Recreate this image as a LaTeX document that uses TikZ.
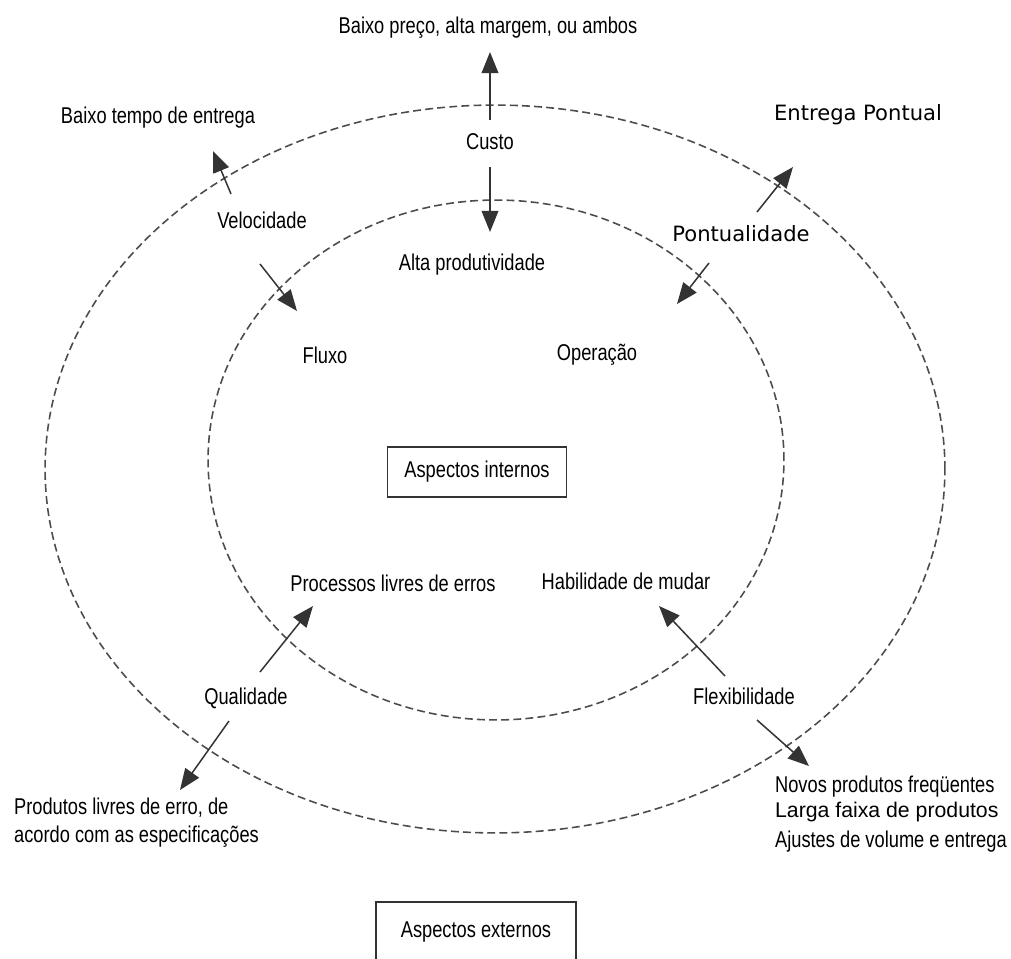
\documentclass[tikz,border=0pt]{standalone}
\usepackage{fontspec}
\setmainfont{Liberation Sans}
\newfontfamily\narrowfont[FakeStretch=0.8]{Liberation Sans}
\newfontfamily\vfont{DejaVu Sans}
\usetikzlibrary{arrows.meta}

\begin{document}
\begin{tikzpicture}[x=0.02cm, y=-0.02cm,
  lbl/.style={font=\narrowfont\fontsize{13}{16}\selectfont, inner sep=1pt},
  biglbl/.style={font=\fontsize{12.1}{14}\selectfont, inner sep=1pt},
  vlbl/.style={font=\vfont\fontsize{12}{14}\selectfont, inner sep=1pt},
  ring/.style={draw=black!70, line width=0.9pt, dash pattern=on 4.5pt off 2.4pt},
  arr/.style={-{Triangle[length=12pt, width=9.5pt]}, line width=0.85pt, black!80},
  box/.style={draw=black!80, line width=0.8pt, font=\narrowfont\fontsize{13}{16}\selectfont}]
\useasboundingbox (0,0) rectangle (1011,959);
\clip (0,0) rectangle (1011,959);

\draw[ring] (495,469) ellipse [x radius=9cm, y radius=7.28cm];
\draw[ring] (496,460) ellipse [x radius=5.76cm, y radius=5.2cm];

\node[lbl] (baixo) at (488,28) {Baixo preço, alta margem, ou ambos};
\node[lbl] (custo) at (490,142) {Custo};
\node[lbl] (altaprod) at (472,265) {Alta produtividade};
\node[lbl] (baixotempo) at (158,118) {Baixo tempo de entrega};
\node[lbl] (velocidade) at (262,220) {Velocidade};
\node[lbl] (fluxo) at (325,355) {Fluxo};
\node[lbl] (operacao) at (597,355) {Operação};
\node[vlbl] (entrega) at (858,115) {Entrega Pontual};
\node[vlbl] (pontual) at (741,234) {Pontualidade};
\node[box, minimum width=3.58cm, minimum height=1cm] (internos) at (477,472) {Aspectos internos};
\node[lbl] (processos) at (393,583) {Processos livres de erros};
\node[lbl] (habilidade) at (626,581) {Habilidade de mudar};
\node[lbl] (qualidade) at (246,698) {Qualidade};
\node[lbl] (flex) at (744,696) {Flexibilidade};
\node[lbl, anchor=west, align=left] (produtos) at (12,823) {Produtos livres de erro, de\\acordo com as especificações};
\node[lbl, anchor=west] (novos) at (773,787) {Novos produtos freqüentes};
\node[biglbl, anchor=west] (larga) at (773,812) {Larga faixa de produtos};
\node[lbl, anchor=west] (ajustes) at (773,842) {Ajustes de volume e entrega};
\node[box, minimum width=4cm, minimum height=1.2cm] (externos) at (476,932) {Aspectos externos};

\coordinate (custo-a) at (490,120);
\coordinate (custo-b) at (490,52);
\coordinate (custo-c) at (490,167);
\coordinate (custo-d) at (490,232);
\coordinate (velo-a) at (231,194);
\coordinate (velo-b) at (213,151);
\coordinate (velo-c) at (260,264);
\coordinate (velo-d) at (297,311);
\coordinate (pont-a) at (757,212);
\coordinate (pont-b) at (793,167);
\coordinate (pont-c) at (709,263);
\coordinate (pont-d) at (677,304);
\coordinate (qual-a) at (260,672);
\coordinate (qual-b) at (313,606);
\coordinate (qual-c) at (229,721);
\coordinate (qual-d) at (180,790);
\coordinate (flex-a) at (725,676);
\coordinate (flex-b) at (659,606);
\coordinate (flex-c) at (757,720);
\coordinate (flex-d) at (809,766);

\draw[arr] (custo-a) -- (custo-b);
\draw[arr] (custo-c) -- (custo-d);
\draw[arr] (velo-a) -- (velo-b);
\draw[arr] (velo-c) -- (velo-d);
\draw[arr] (pont-a) -- (pont-b);
\draw[arr] (pont-c) -- (pont-d);
\draw[arr] (qual-a) -- (qual-b);
\draw[arr] (qual-c) -- (qual-d);
\draw[arr] (flex-a) -- (flex-b);
\draw[arr] (flex-c) -- (flex-d);
\end{tikzpicture}
\end{document}
